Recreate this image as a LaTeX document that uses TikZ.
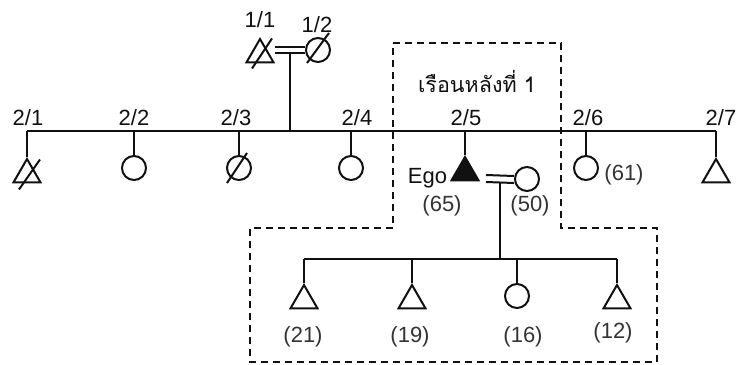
\documentclass[tikz,border=0pt]{standalone}
\usepackage{fontspec}
\setmainfont{Liberation Sans}
\newfontfamily\thaifont[Script=Thai]{Loma}
\usepackage{tikz}
\usetikzlibrary{calc,positioning,shapes.geometric}
\definecolor{tinta}{HTML}{111111}
\definecolor{gristexto}{HTML}{333333}

\begin{document}
\begin{tikzpicture}[x=1pt,y=-1pt,line width=2pt,line cap=butt,tinta,
    male/.style={regular polygon,regular polygon sides=3,draw,minimum size=31pt,
                 inner sep=0pt,anchor=corner 1},
    female/.style={circle,draw,minimum size=24pt,inner sep=0pt,anchor=north},
    etiq/.style={font=\fontsize{22}{26}\selectfont,inner sep=0pt},
    edad/.style={etiq,gristexto},
    grupo/.style={line width=1.6pt,dash pattern=on 7pt off 5pt}]
        \useasboundingbox (0,0) rectangle (736,364);
        % --- generación 1 ---
        \node[male]   (g11) at (260,37) {};
        \node[female] (g12) at (318,37) {};
        \node[etiq] (l11) at (260,20) {1/1};
        \node[etiq] (l12) at (317,25) {1/2};
        \draw (g11.center) ++(-8,14) -- ++(20,-30);
        \draw (g12.center) ++(-11,13) -- ++(22,-30);
        \draw ($(g11.corner 3|-g12.center)+(0,-3)$) -- ($(g12.west)+(0,-3)$)
              ($(g11.corner 3|-g12.center)+(0,3)$) -- ($(g12.west)+(0,3)$);
        \coordinate (c1) at (290,52);
        \coordinate (s0) at (290,131);
        \draw (c1) -- (s0);
        % --- generación 2: línea de hermanos ---
        \foreach \i/\x in {1/27,2/134,3/239,4/351,5/465,6/586,7/716}{
          \coordinate (d\i) at (\x,131);
        }
        \draw (d1) -- (d7);
        \foreach \i/\x in {1/28,2/134,3/236,4/357,5/466,6/588,7/721}{
          \node[etiq] (l2\i) at (\x,118) {2/\i};
        }
        \node[male]              (p1) at (27,157) {};
        \node[female]            (p2) at (134,155) {};
        \node[female]            (p3) at (239,155) {};
        \node[female]            (p4) at (351,155) {};
        \node[male,fill=tinta]   (p5) at (465,155) {};
        \node[female]            (p6) at (586,155) {};
        \node[male]              (p7) at (716,157) {};
        \foreach \i/\a in {1/corner 1,2/north,3/north,4/north,5/corner 1,6/north,7/corner 1}{
          \draw (d\i) -- (p\i.\a);
        }
        \draw (p1.center) ++(-8,15) -- ++(21,-30);
        \draw (p3.center) ++(-12,15) -- ++(20,-30);
        % --- ego y esposa ---
        \node[etiq,anchor=east] (ego) at (448,178) {Ego};
        \node[edad] (a65) at (442,206) {(65)};
        \node[female] (sp) at (527,166) {};
        \node[edad] (a50) at (530,206) {(50)};
        \node[edad] (a61) at (624,175) {(61)};
        \coordinate (e0) at (486,178);
        \draw ($(e0)+(0,-3)$) -- ($(sp.west)+(0,-3)$)
              ($(e0)+(0,4)$) -- ($(sp.west)+(0,4)$);
        \coordinate (c2) at (500,182);
        \coordinate (k0) at (500,259);
        \draw (c2) -- (k0);
        % --- generación 3 ---
        \foreach \i/\x in {1/304,2/412,3/517,4/617}{
          \coordinate (k\i) at (\x,259);
        }
        \draw (k1) -- (k4);
        \node[male]   (h1) at (304,283) {};
        \node[male]   (h2) at (412,283) {};
        \node[female] (h3) at (517,283) {};
        \node[male]   (h4) at (617,283) {};
        \foreach \i/\a in {1/corner 1,2/corner 1,3/north,4/corner 1}{
          \draw (k\i) -- (h\i.\a);
        }
        \node[edad] (a21) at (303,337) {(21)};
        \node[edad] (a19) at (410,337) {(19)};
        \node[edad] (a16) at (523,337) {(16)};
        \node[edad] (a12) at (613,333) {(12)};
        % --- recuadro de la casa ---
        \draw[grupo] (393,43) -- (561,43) -- (561,228) -- (657,228) -- (657,362)
              -- (250,362) -- (250,228) -- (393,228) -- cycle;
        \node[etiq,font=\thaifont\fontsize{21.5}{26}\selectfont] (casa) at (477,82) {เรือนหลังที่ 1};
      \end{tikzpicture}
\end{document}
